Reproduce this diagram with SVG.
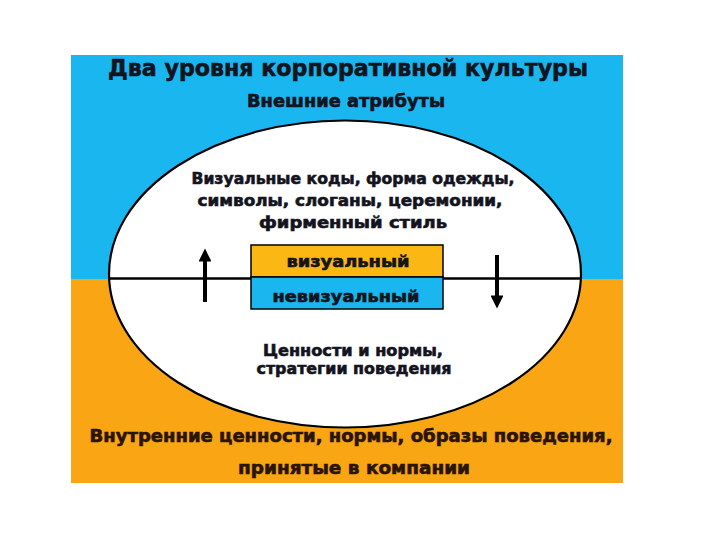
<svg xmlns="http://www.w3.org/2000/svg" width="720" height="540" viewBox="0 0 720 540">
  <defs>
    <style>
      .t { font-family: "DejaVu Sans", "Liberation Sans", sans-serif; font-weight: bold; fill: #14141e; stroke: #14141e; stroke-width: 0.6; text-anchor: middle; }
      .dark { fill: #2a1408; stroke: #2a1408; }
      .conn { stroke: #000; stroke-width: 4; fill: none; }
    </style>
    <marker id="head" viewBox="0 0 10 10" refX="5" refY="5" markerWidth="3.4" markerHeight="3.2" orient="auto" markerUnits="strokeWidth">
      <path d="M0,0 L10,5 L0,10 z" fill="#000"/>
    </marker>
  </defs>
  <rect width="720" height="540" fill="#ffffff"/>
  <g id="background">
    <rect x="71" y="55" width="552" height="224" fill="#1ab6ef"/>
    <rect x="71" y="279" width="552" height="204" fill="#f9a514"/>
  </g>
  <g id="title">
    <text class="t" x="348" y="76" font-size="23" textLength="480" lengthAdjust="spacingAndGlyphs">Два уровня корпоративной культуры</text>
    <text class="t" x="346" y="107" font-size="17" textLength="198" lengthAdjust="spacingAndGlyphs">Внешние атрибуты</text>
  </g>
  <g id="ellipse">
    <ellipse cx="345" cy="274" rx="236" ry="153.5" fill="#ffffff" stroke="#000" stroke-width="2.2"/>
    <line x1="109" y1="278.5" x2="581" y2="278.5" stroke="#000" stroke-width="2.6"/>
  </g>
  <g id="visual-text">
    <text class="t" x="353" y="184" font-size="15" textLength="323" lengthAdjust="spacingAndGlyphs">Визуальные коды, форма одежды,</text>
    <text class="t" x="350" y="206" font-size="15" textLength="305" lengthAdjust="spacingAndGlyphs">символы, слоганы, церемонии,</text>
    <text class="t" x="353" y="228" font-size="15" textLength="188" lengthAdjust="spacingAndGlyphs">фирменный стиль</text>
  </g>
  <g id="levels-box">
    <rect x="251" y="245" width="192" height="32" fill="#fbb714" stroke="#000" stroke-width="1.5"/>
    <rect x="251" y="277" width="192" height="32" fill="#1ab6ef" stroke="#000" stroke-width="1.5"/>
    <text class="t" x="348" y="267" font-size="15" textLength="123" lengthAdjust="spacingAndGlyphs">визуальный</text>
    <text class="t" x="346" y="302" font-size="15" textLength="147" lengthAdjust="spacingAndGlyphs">невизуальный</text>
  </g>
  <g id="nonvisual-text">
    <text class="t" x="353" y="356" font-size="15" textLength="180" lengthAdjust="spacingAndGlyphs">Ценности и нормы,</text>
    <text class="t" x="354" y="374" font-size="15" textLength="195" lengthAdjust="spacingAndGlyphs">стратегии поведения</text>
  </g>
  <g id="inner-values">
    <text class="t dark" x="351" y="442" font-size="17" textLength="523" lengthAdjust="spacingAndGlyphs">Внутренние ценности, нормы, образы поведения,</text>
    <text class="t dark" x="354" y="474" font-size="17" textLength="232" lengthAdjust="spacingAndGlyphs">принятые в компании</text>
  </g>
  <g id="connectors">
    <line class="conn" x1="205" y1="302" x2="205" y2="255" marker-end="url(#head)"/>
    <line class="conn" x1="497" y1="255" x2="497" y2="302" marker-end="url(#head)"/>
  </g>
</svg>
